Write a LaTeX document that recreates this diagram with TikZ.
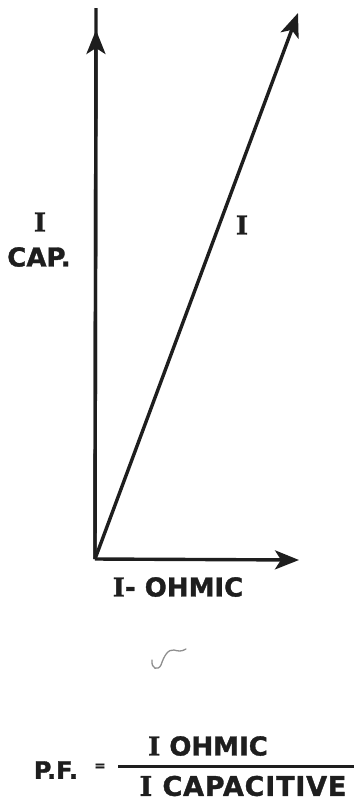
\documentclass[tikz,border=0pt]{standalone}
\usepackage{fontspec}
\setmainfont{DejaVu Sans}
\newfontfamily\heavy[FakeBold=1.3]{DejaVu Sans Bold}
\newfontfamily\heavyspaced[FakeBold=1.3,LetterSpace=3]{DejaVu Sans Bold}
\newfontfamily\slabI[FakeBold=1.3]{DejaVu Serif Bold}
\usetikzlibrary{arrows.meta}
\definecolor{ink}{HTML}{1E1E1E}
\definecolor{pencil}{HTML}{8E8E8E}
\tikzset{
  axis/.style={line width=3.4pt, draw=ink},
  headtip/.style={-{Stealth[length=24pt,width=19pt,inset=6pt]}},
  lbl/.style={text=ink, font=\heavy\fontsize{26}{26}\selectfont, inner sep=0pt},
  bigl/.style={text=ink, font=\heavyspaced\fontsize{27}{27}\selectfont, inner sep=0pt},
}
\newcommand{\Ib}{{\slabI I}}
\begin{document}
\begin{tikzpicture}[x=1pt,y=-1pt]
\useasboundingbox (0,0) rectangle (358,801);
% geometry
\coordinate (O) at (95,559);
\coordinate (vtop) at (96,8);
\coordinate (vhead) at (96,30);
\coordinate (dtip) at (298,13);
\coordinate (htip) at (299,560);
% axes
\draw[axis] (O) -- (vtop);
\draw[axis, headtip] (O) -- (vhead);
\draw[axis, headtip] (O) -- (dtip);
\draw[axis, headtip] (O) -- (htip);
% labels
\node[lbl] (icap) at (40,222) {\Ib};
\node[lbl] (cap) at (39,257) {CAP.};
\node[lbl] (itot) at (242,225) {\Ib};
\node[lbl] (iohm) at (178,587) {\Ib- OHMIC};
% pencil squiggle
\draw[pencil, line width=1.3pt, line cap=round] (152,660) .. controls (151,669) and (158,671) .. (161,665) .. controls (164,656) and (168,649) .. (174,650) .. controls (178,651) and (181,652) .. (186,649);
% formula
\node[text=ink, font=\heavy\fontsize{24}{24}\selectfont, inner sep=0pt] (pf) at (56,770) {P.F.};
\node[text=ink, font=\heavy\fontsize{14}{14}\selectfont, inner sep=0pt] (eq) at (100,767) {=};
\node[lbl] (num) at (208,746) {\Ib\ OHMIC};
\node[bigl] (den) at (243,786) {\Ib\ CAPACITIVE};
\coordinate (fl) at (118,766);
\coordinate (fr) at (354,766);
\draw[ink, line width=3pt] (fl) -- (fr);
\end{tikzpicture}
\end{document}
